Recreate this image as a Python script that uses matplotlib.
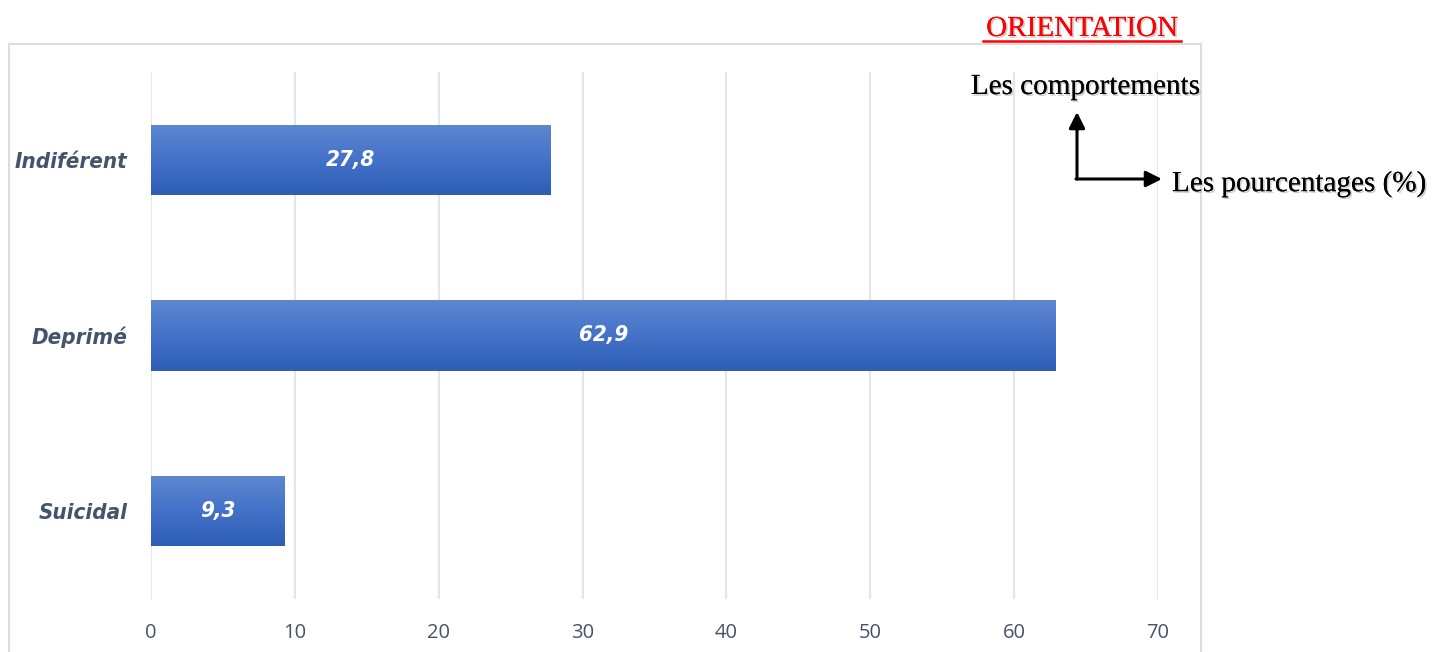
import numpy as np
import matplotlib as mpl
import matplotlib.pyplot as plt
import matplotlib.patches as patches
import matplotlib.patheffects as pe
from matplotlib.colors import LinearSegmentedColormap

# data
categories = ['Suicidal', 'Deprimé', 'Indiférent']
values = [9.3, 62.9, 27.8]
value_labels = ['9,3', '62,9', '27,8']
xticks = [0, 10, 20, 30, 40, 50, 60, 70]

W, H = 1434, 652
fig = plt.figure(figsize=(W / 100, H / 100), dpi=100)

# chart frame
fig.patches.append(patches.Rectangle((9 / W, -0.01), (1201 - 9) / W, 1 - 44 / H + 0.01,
                                     transform=fig.transFigure, fill=False,
                                     edgecolor='#DADDE2', linewidth=1.5, zorder=0))

ax = fig.add_axes([151 / W, 1 - 599 / H, (1158 - 151) / W, (599 - 72) / H])
ax.set_xlim(0, 70)
ax.set_ylim(-0.5, 2.5)

grad = LinearSegmentedColormap.from_list('bar', ['#2E5DB6', '#4472C8', '#5F87D0'])
ypos = np.arange(len(categories))
bars = ax.barh(ypos, values, height=0.4, color='#4472C4', zorder=2)
for b in bars:
    x0, y0 = b.get_x(), b.get_y()
    im = ax.imshow(np.linspace(0, 1, 100).reshape(-1, 1), cmap=grad, aspect='auto',
                   extent=[x0, x0 + b.get_width(), y0, y0 + b.get_height()],
                   origin='lower', zorder=3)
    im.set_clip_path(b)

cond = ['DejaVu Sans']
for y, v, lab in zip(ypos, values, value_labels):
    ax.text(v / 2, y, lab, ha='center', va='center', color='white', fontsize=16,
            fontweight='bold', fontstyle='italic', family=cond, fontstretch='condensed',
            zorder=4)

ax.set_xticks(xticks)
ax.set_yticks(ypos)
ax.set_yticklabels(categories, fontsize=16, fontweight='bold', fontstyle='italic',
                   family=cond, fontstretch='condensed', color='#44546A')
for t in ax.get_xticklabels():
    t.set_fontsize(14.5)
    t.set_color('#44546A')
    t.set_family(['Open Sans', 'DejaVu Sans'])
ax.tick_params(axis='y', length=0, pad=17)
ax.tick_params(axis='x', length=0, pad=17)
ax.grid(axis='x', color='#E3E6EA', linewidth=1.6, zorder=0)
ax.set_axisbelow(True)
for s in ax.spines.values():
    s.set_visible(False)
ax.patch.set_alpha(0)

# orientation note
serif = ['Liberation Serif', 'DejaVu Serif']
shadow = [pe.withSimplePatchShadow(offset=(1.2, -1.2), shadow_rgbFace='#999999', alpha=0.5), pe.Normal()]
fig.text(1082 / W, 1 - 29 / H, 'ORIENTATION', ha='center', va='center', color='red',
         fontsize=21, family=serif, path_effects=shadow)
fig.add_artist(plt.Line2D([983 / W, 1181 / W], [1 - 41 / H, 1 - 41 / H], color='red', lw=1.8))
fig.text(1085 / W, 1 - 87 / H, 'Les comportements', ha='center', va='center', color='black',
         fontsize=21, family=serif, path_effects=shadow)
fig.text(1172 / W, 1 - 184 / H, 'Les pourcentages (%)', ha='left', va='center', color='black',
         fontsize=21, family=serif, path_effects=shadow)
corner = (1077 / W, 1 - 179 / H)
fig.add_artist(patches.FancyArrowPatch(corner, (1077 / W, 1 - 112 / H), transform=fig.transFigure,
                                       arrowstyle='-|>', mutation_scale=24, lw=2.2, color='black',
                                       shrinkA=0, shrinkB=0))
fig.add_artist(patches.FancyArrowPatch((1076 / W, 1 - 179 / H), (1162 / W, 1 - 179 / H),
                                       transform=fig.transFigure, arrowstyle='-|>',
                                       mutation_scale=24, lw=2.2, color='black',
                                       shrinkA=0, shrinkB=0))

fig.savefig('out.png', dpi=100)
